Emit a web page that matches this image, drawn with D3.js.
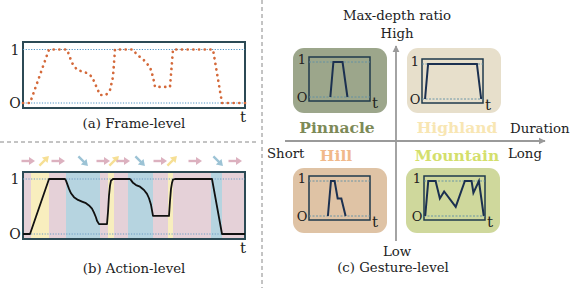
<!DOCTYPE html>
<html lang="en">
<head>
<meta charset="UTF-8">
<title>Frame / Action / Gesture levels</title>
<script src="https://d3js.org/d3.v7.min.js"></script>
<style>
  body { margin: 0; background: #fff; }
  svg text { font-family: "DejaVu Serif", serif; fill: #222; }
</style>
</head>
<body>
<svg id="chart" width="582" height="288"></svg>
<script>
// ---- data ----
// frame-level samples: [t, depth]  (t in frames 0..222)
const frameCurve = [[0,0],[7,0],[26,1],[44,1],[49,0.75],[54,0.62],[64,0.56],[69,0.49],[74,0.28],[77,0.15],
  [83,0.15],[87,0.24],[90,0.49],[92,1],[110,1],[114,0.9],[120,0.82],[127,0.67],[130,0.49],[132,0.3],
  [147,0.3],[150,1],[190,1],[199,0],[222,0]];
// action-level smoothed curve
const actionCurve = [[0,0],[7,0],[26,1],[42,1],[43,0.97],[44,0.92],[46,0.82],[48,0.74],[51,0.67],[55,0.62],
  [59,0.59],[63,0.56],[66,0.52],[69,0.46],[71,0.39],[73,0.3],[74,0.24],[76,0.18],[84,0.18],[85,0.4],
  [86,0.7],[87,0.88],[88,0.97],[90,1],[107,1],[108,0.98],[110,0.93],[113,0.89],[117,0.86],[121,0.8],
  [124,0.73],[126,0.65],[128,0.53],[129,0.43],[130,0.33],[146,0.33],[147,0.6],[148,0.82],[149,0.93],
  [150,0.99],[152,1],[189,1],[199,0],[222,0]];
// action segments: [start, end, type]
const actionBands = [[0,8,"hold"],[8,26,"up"],[26,43,"hold"],[43,77,"down"],[77,85,"hold"],[85,91,"up"],
  [91,105,"hold"],[105,130,"down"],[130,145,"hold"],[145,150,"up"],[150,188,"hold"],[188,199,"down"],[199,222,"hold"]];
const actionArrows = [[5,"hold"],[21,"up"],[35,"hold"],[60,"down"],[80,"hold"],[91,"up"],[100,"hold"],
  [117,"down"],[137,"hold"],[149,"up"],[172,"hold"],[195,"down"],[212,"hold"]];

// gesture shapes (t and depth normalised 0..1)
const pinnacle = [[0.35,0],[0.40,1],[0.55,1],[0.63,0]];
const highland = [[0.05,0],[0.10,1],[0.90,1],[0.97,0]];
const hill = [[0.31,0],[0.36,1],[0.42,1],[0.47,0.5],[0.53,0.5],[0.60,0]];
const mountain = [[0.02,0],[0.07,1],[0.19,1],[0.26,0.5],[0.33,0.7],[0.52,0.26],[0.67,1],[0.78,1],
  [0.81,0.66],[0.90,1],[0.98,0]];
const gestureNames = ["Pinnacle", "Highland", "Hill", "Mountain"];

const svg = d3.select("#chart");
const bandColor = { hold: "#e5d1d8", up: "#f8eebe", down: "#b6d4e0" };
const arrowColor = { hold: "#dcb1bf", up: "#f6df94", down: "#9cc3d5" };

// separators
svg.append("line").attr("x1", 0).attr("x2", 258).attr("y1", 142).attr("y2", 142)
  .attr("stroke", "#888").attr("stroke-dasharray", "4,3");
svg.append("line").attr("x1", 262).attr("x2", 262).attr("y1", 0).attr("y2", 288)
  .attr("stroke", "#888").attr("stroke-dasharray", "4,3");

// ---- (a) frame level ----
const xa = d3.scaleLinear().domain([0, 222]).range([23, 245]);
const ya = d3.scaleLinear().domain([0, 1]).range([103, 49.5]);
const ga = svg.append("g");
ga.append("rect").attr("x", 23).attr("y", 42).attr("width", 222).attr("height", 66)
  .attr("fill", "#fff").attr("stroke", "#2c4a55").attr("stroke-width", 2);
[0, 1].forEach(v => ga.append("line").attr("x1", 23).attr("x2", 245).attr("y1", ya(v)).attr("y2", ya(v))
  .attr("stroke", "#4f93c4").attr("stroke-dasharray", "1.2,1.5"));
ga.append("path").datum(frameCurve)
  .attr("d", d3.line().x(d => xa(d[0])).y(d => ya(d[1])))
  .attr("fill", "none").attr("stroke", "#d4693a").attr("stroke-width", 2.7)
  .attr("stroke-linecap", "round").attr("stroke-dasharray", "0.1,5.6");
ga.append("text").attr("x", 15).attr("y", ya(1) + 5).attr("text-anchor", "middle").attr("font-size", 14).text("1");
ga.append("text").attr("x", 15).attr("y", ya(0) + 5).attr("text-anchor", "middle").attr("font-size", 14).text("O");
ga.append("text").attr("x", 243).attr("y", 122).attr("text-anchor", "middle").attr("font-size", 15).text("t");
ga.append("text").attr("x", 134).attr("y", 128).attr("text-anchor", "middle").attr("font-size", 13.3).text("(a) Frame-level");

// ---- (b) action level ----
const yb = d3.scaleLinear().domain([0, 1]).range([234, 179]);
const gb = svg.append("g");
gb.selectAll("rect.band").data(actionBands).enter().append("rect")
  .attr("x", d => xa(d[0])).attr("width", d => xa(d[1]) - xa(d[0]))
  .attr("y", 172).attr("height", 67).attr("fill", d => bandColor[d[2]]);
gb.append("rect").attr("x", 23).attr("y", 172).attr("width", 222).attr("height", 67)
  .attr("fill", "none").attr("stroke", "#2c4a55").attr("stroke-width", 2);
[0, 1].forEach(v => gb.append("line").attr("x1", 23).attr("x2", 245).attr("y1", yb(v)).attr("y2", yb(v))
  .attr("stroke", "#6c9cc4").attr("stroke-dasharray", "1.2,1.5"));
gb.append("path").datum(actionCurve)
  .attr("d", d3.line().x(d => xa(d[0])).y(d => yb(d[1])))
  .attr("fill", "none").attr("stroke", "#111").attr("stroke-width", 1.8).attr("stroke-linejoin", "round");
// arrows: shaft + filled head, rotated by kind
const arrowAngle = { hold: 0, up: -45, down: 45 };
const arrows = gb.selectAll("g.arrow").data(actionArrows).enter().append("g")
  .attr("transform", d => `translate(${xa(d[0])},161) rotate(${arrowAngle[d[1]]})`);
arrows.append("line").attr("x1", -6.5).attr("x2", 2).attr("y1", 0).attr("y2", 0)
  .attr("stroke", d => arrowColor[d[1]]).attr("stroke-width", 2.4);
arrows.append("path").attr("d", "M1,-4 L7,0 L1,4 z").attr("fill", d => arrowColor[d[1]]);
gb.append("text").attr("x", 15).attr("y", yb(1) + 5).attr("text-anchor", "middle").attr("font-size", 14).text("1");
gb.append("text").attr("x", 15).attr("y", yb(0) + 5).attr("text-anchor", "middle").attr("font-size", 14).text("O");
gb.append("text").attr("x", 243).attr("y", 253).attr("text-anchor", "middle").attr("font-size", 15).text("t");
gb.append("text").attr("x", 134).attr("y", 273).attr("text-anchor", "middle").attr("font-size", 13.3).text("(b) Action-level");

// ---- (c) gesture level ----
const gc = svg.append("g");
gc.append("defs").append("marker").attr("id", "ah").attr("viewBox", "0 0 10 10")
  .attr("refX", 9).attr("refY", 5).attr("markerWidth", 4).attr("markerHeight", 4).attr("orient", "auto")
  .append("path").attr("d", "M0,0 L10,5 L0,10 z").attr("fill", "#9a9a9a");
gc.append("line").attr("x1", 285).attr("x2", 545).attr("y1", 141).attr("y2", 141)
  .attr("stroke", "#9a9a9a").attr("stroke-width", 1.8).attr("marker-end", "url(#ah)");
gc.append("line").attr("x1", 396).attr("x2", 396).attr("y1", 241).attr("y2", 46)
  .attr("stroke", "#9a9a9a").attr("stroke-width", 1.8).attr("marker-end", "url(#ah)");

const minis = [
  { shape: pinnacle, bx: 293, by: 48, bg: "#9ca68b", ix: 309, iy: 57 },
  { shape: highland, bx: 407, by: 48, bg: "#e7dfcb", ix: 422, iy: 59 },
  { shape: hill, bx: 293, by: 168, bg: "#dfc3a5", ix: 309, iy: 176 },
  { shape: mountain, bx: 406, by: 168, bg: "#cfd89c", ix: 424, iy: 176 }
];
minis.forEach(m => {
  const g = gc.append("g");
  g.append("rect").attr("x", m.bx).attr("y", m.by).attr("width", 94).attr("height", 65)
    .attr("rx", 11).attr("fill", m.bg);
  const iw = 61, ih = 44;
  const xs = d3.scaleLinear().domain([0, 1]).range([m.ix, m.ix + iw]);
  const ys = d3.scaleLinear().domain([0, 1]).range([m.iy + ih - 4, m.iy + 5]);
  g.append("rect").attr("x", m.ix).attr("y", m.iy).attr("width", iw).attr("height", ih)
    .attr("fill", "none").attr("stroke", "#1f3a4c").attr("stroke-width", 1.5);
  [0, 1].forEach(v => g.append("line").attr("x1", m.ix).attr("x2", m.ix + iw).attr("y1", ys(v)).attr("y2", ys(v))
    .attr("stroke", "#5f8fa6").attr("stroke-width", 0.9).attr("stroke-dasharray", "2,1.5"));
  g.append("path").datum(m.shape)
    .attr("d", d3.line().x(d => xs(d[0])).y(d => ys(d[1])))
    .attr("fill", "none").attr("stroke", "#1b3050").attr("stroke-width", 2);
  g.append("text").attr("x", m.ix - 7).attr("y", ys(1) + 2).attr("text-anchor", "middle").attr("font-size", 13).text("1");
  g.append("text").attr("x", m.ix - 7).attr("y", m.iy + ih + 1).attr("text-anchor", "middle").attr("font-size", 13).text("O");
  g.append("text").attr("x", m.ix + iw + 5).attr("y", m.iy + ih + 7).attr("text-anchor", "middle").attr("font-size", 15).text("t");
});

const nameStyle = [
  { x: 337, y: 133, c: "#7d8a58" },
  { x: 457, y: 133, c: "#f8e6b3" },
  { x: 336, y: 161, c: "#f1b98a" },
  { x: 457, y: 161, c: "#d4df6c" }
];
gestureNames.forEach((n, i) => {
  gc.append("text").attr("x", nameStyle[i].x).attr("y", nameStyle[i].y).attr("text-anchor", "middle")
    .attr("font-size", 15.5).attr("font-weight", "bold").style("fill", nameStyle[i].c).text(n);
});

const axisText = [
  ["Max-depth ratio", 397, 20, "middle"], ["High", 397, 38, "middle"], ["Duration", 510, 133, "start"],
  ["Short", 267, 158, "start"], ["Long", 508, 158, "start"], ["Low", 397, 256, "middle"],
  ["(c) Gesture-level", 393, 272, "middle"]
];
axisText.forEach(t => gc.append("text").attr("x", t[1]).attr("y", t[2]).attr("text-anchor", t[3])
  .attr("font-size", 13.3).text(t[0]));
</script>
</body>
</html>
